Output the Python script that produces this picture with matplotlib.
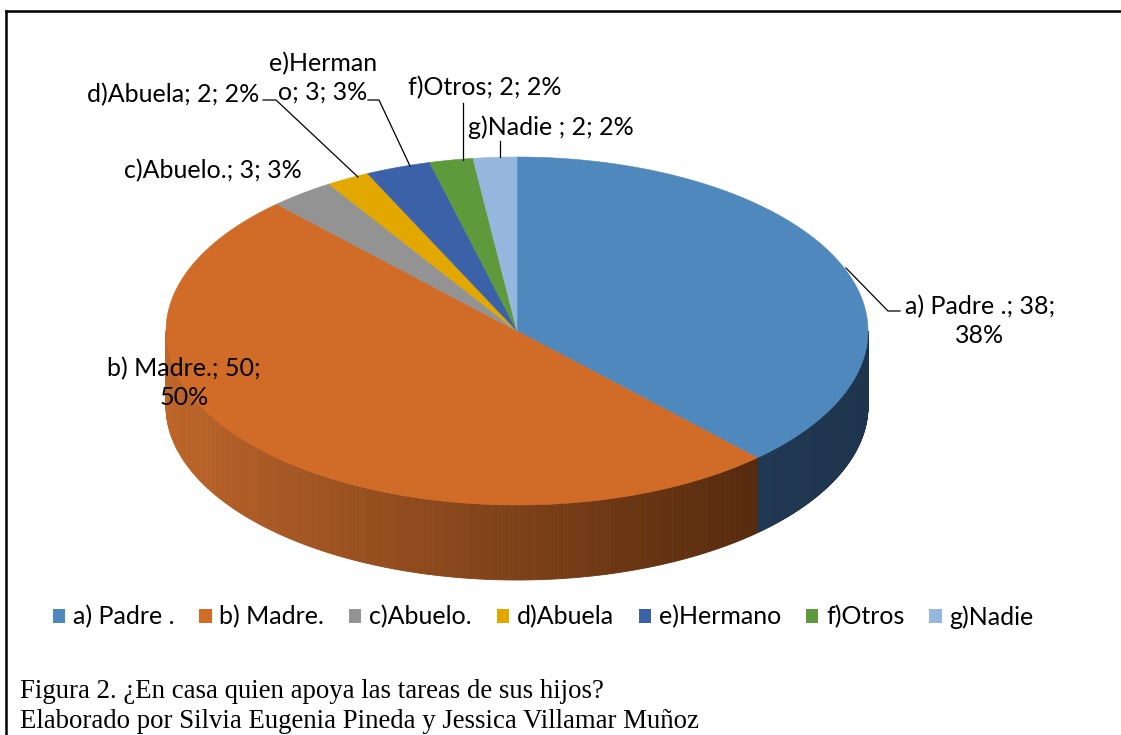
import numpy as np
import matplotlib
matplotlib.use("Agg")
import matplotlib.pyplot as plt
from matplotlib.patches import Polygon, Patch

# datos
categorias = ["a) Padre .", "b) Madre.", "c)Abuelo.", "d)Abuela",
              "e)Hermano", "f)Otros", "g)Nadie"]
valores = [38, 50, 3, 2, 3, 2, 2]
etiquetas = ["a) Padre .; 38;\n38%", "b) Madre.; 50;\n50%", "c)Abuelo.; 3; 3%",
             "d)Abuela; 2; 2%", "e)Herman\no; 3; 3%", "f)Otros; 2; 2%",
             "g)Nadie ; 2; 2%"]
colores = ["#4F88BD", "#D06C28", "#939393", "#E2A800",
           "#3B62A8", "#5E9A3C", "#95B7DD"]

# geometria (pixeles)
CX, CY, RX, RY, DEPTH = 517, 331, 351, 174, 75
FONT = ["Lato", "DejaVu Sans"]
FS = 18

fig = plt.figure(figsize=(11.21, 7.35), dpi=100)
ax = fig.add_axes([0, 0, 1, 1])
ax.set_xlim(0, 1121); ax.set_ylim(735, 0); ax.axis("off")


def pt(th, dy=0.0):
    return CX + RX * np.cos(th), CY - RY * np.sin(th) + dy


def lerp(c0, c1, t):
    a = np.array(matplotlib.colors.to_rgb(c0))
    b = np.array(matplotlib.colors.to_rgb(c1))
    return tuple(a + (b - a) * t)


total = sum(valores)
bordes = np.deg2rad(90 - 360 * np.concatenate([[0], np.cumsum(valores)]) / total)

# paredes laterales (solo la mitad frontal, sin(th) < 0)
lados = {0: ("#213852", "#1F354E"), 1: ("#BF662A", "#562A0E")}
for i, (c_a, c_b) in lados.items():
    a0, a1 = bordes[i], bordes[i + 1]        # a0 > a1 (sentido horario)
    hi, lo = min(a0, 0.0), max(a1, -np.pi)
    if hi <= lo:
        continue
    ths = np.linspace(hi, lo, 260)
    for t0, t1 in zip(ths[:-1], ths[1:]):
        x0, y0 = pt(t0); x1, y1 = pt(t1)
        xm = 0.5 * (x0 + x1)
        if i == 1:
            f = np.clip((xm - (CX - RX)) / (2 * RX * 0.84), 0, 1) ** 0.9
        else:
            f = np.clip((xm - 752) / 116, 0, 1)
        col = lerp(c_a, c_b, f)
        ax.add_patch(Polygon([(x0, y0), (x1, y1), (x1, y1 + DEPTH), (x0, y0 + DEPTH)],
                             closed=True, fc=col, ec=col, lw=0.6, zorder=2))

# cara superior
for i, c in enumerate(colores):
    ths = np.linspace(bordes[i], bordes[i + 1], 200)
    xs, ys = pt(ths)
    verts = [(CX, CY)] + list(zip(xs, ys))
    ax.add_patch(Polygon(verts, closed=True, fc=c, ec=c, lw=0.4, zorder=3))

# etiquetas de datos
pos_etq = [(980, 321), (184, 383), (213, 171), (173, 95),
           (323, 78), (485, 88), (551, 127)]
for (x, y), txt in zip(pos_etq, etiquetas):
    ax.text(x, y, txt, ha="center", va="center", fontsize=FS, family=FONT,
            color="black", linespacing=1.3, zorder=5)

# lineas guia
guias = [[(846, 268), (888, 311), (900, 311)],
         [(263, 100), (276, 100), (358, 177)],
         [(368, 100), (379, 100), (410, 166)],
         [(463, 103), (463, 160)],
         [(500, 141), (500, 157)]]
for g in guias:
    gx, gy = zip(*g)
    ax.plot(gx, gy, color="black", lw=0.9, zorder=6)

# leyenda
handles = [Patch(fc=c, ec="none") for c in colores]
ax.legend(handles, categorias, loc="center", bbox_to_anchor=(0.4844, 1 - 617 / 735),
          ncol=7, frameon=False, handlelength=0.5, handleheight=0.5,
          handletextpad=0.3, columnspacing=1.0, prop={"family": FONT, "size": FS})

# marco
ax.plot([6, 6], [735, 11], color="black", lw=1.8, solid_capstyle="projecting")
ax.plot([6, 1121], [11, 11], color="black", lw=1.8, solid_capstyle="projecting")

# pie de figura
ax.text(20, 691, "Figura 2. ¿En casa quien apoya las tareas de sus hijos?",
        ha="left", va="center", fontsize=19.3, family="Liberation Serif")
ax.text(20, 722, "Elaborado por Silvia Eugenia Pineda y Jessica Villamar Muñoz",
        ha="left", va="center", fontsize=19.3, family="Liberation Serif")

fig.savefig("out.png", dpi=100)
